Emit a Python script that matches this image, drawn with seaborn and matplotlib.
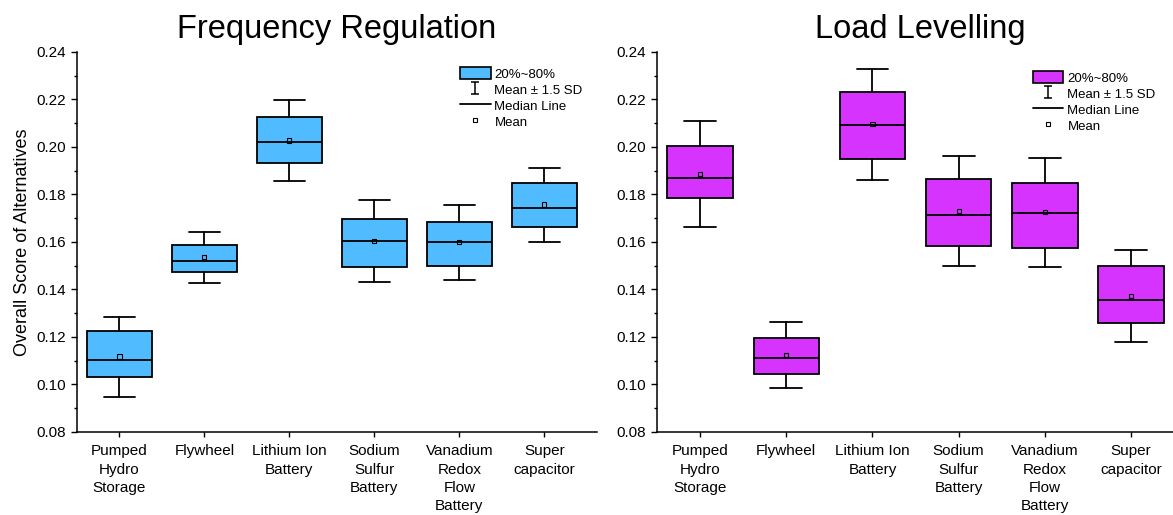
import numpy as np
import matplotlib
matplotlib.use("Agg")
import matplotlib.pyplot as plt
from matplotlib.path import Path
from matplotlib.patches import Patch
from matplotlib.lines import Line2D
from matplotlib.ticker import MultipleLocator
import seaborn as sns

# Storage alternatives (x axis)
categories = ["Pumped\nHydro\nStorage", "Flywheel", "Lithium Ion\nBattery",
              "Sodium\nSulfur\nBattery", "Vanadium\nRedox\nFlow\nBattery", "Super\ncapacitor"]

# Frequency regulation: 20%/80% box, median, mean, mean -/+ 1.5 SD
fr_p20 = [0.1033, 0.1473, 0.1933, 0.1494, 0.1499, 0.1664]
fr_p80 = [0.1224, 0.1588, 0.2125, 0.1696, 0.1685, 0.1850]
fr_median = [0.1104, 0.1519, 0.2022, 0.1602, 0.1598, 0.1741]
fr_mean = [0.1118, 0.1536, 0.2027, 0.1603, 0.1600, 0.1758]
fr_low = [0.0948, 0.1428, 0.1858, 0.1431, 0.1440, 0.1599]
fr_high = [0.1286, 0.1644, 0.2198, 0.1776, 0.1756, 0.1913]

# Load levelling
ll_p20 = [0.1787, 0.1046, 0.1948, 0.1583, 0.1575, 0.1260]
ll_p80 = [0.2006, 0.1194, 0.2233, 0.1865, 0.1848, 0.1499]
ll_median = [0.1869, 0.1111, 0.2093, 0.1715, 0.1724, 0.1357]
ll_mean = [0.1886, 0.1125, 0.2095, 0.1731, 0.1725, 0.1373]
ll_low = [0.1662, 0.0985, 0.1861, 0.1499, 0.1495, 0.1179]
ll_high = [0.2110, 0.1263, 0.2327, 0.1962, 0.1955, 0.1568]

BLUE = "#50BCFF"
MAGENTA = "#D633FF"

sns.set_theme(style="ticks")
plt.rcParams["font.family"] = ["Liberation Sans", "DejaVu Sans"]
plt.rcParams.update({"text.color": "black", "axes.labelcolor": "black",
                     "xtick.color": "black", "ytick.color": "black"})

# I-beam marker for the "Mean ± 1.5 SD" legend entry
ibeam = Path([(-0.6, -1), (0.6, -1), (0, -1), (0, 1), (-0.6, 1), (0.6, 1)],
             [Path.MOVETO, Path.LINETO, Path.MOVETO, Path.LINETO, Path.MOVETO, Path.LINETO])


def draw_panel(ax, p20, p80, med, mean, low, high, color, title, ylabel, legend_xy):
    stats = []
    for i in range(len(categories)):
        stats.append({"q1": p20[i], "q3": p80[i], "med": med[i],
                      "whislo": low[i], "whishi": high[i], "fliers": []})
    lw = 1.3
    ax.bxp(stats, positions=np.arange(len(categories)), widths=0.76, capwidths=0.37,
           patch_artist=True, showfliers=False, manage_ticks=False,
           boxprops=dict(facecolor=color, edgecolor="black", linewidth=lw),
           whiskerprops=dict(color="black", linewidth=lw),
           capprops=dict(color="black", linewidth=lw),
           medianprops=dict(color="black", linewidth=lw))
    sns.scatterplot(x=np.arange(len(categories)), y=mean, ax=ax, marker="s", s=9,
                    facecolor="none", edgecolor="black", linewidth=0.8, zorder=5)

    ax.set_xlim(-0.5, 5.62)
    ax.set_ylim(0.08, 0.24)
    ax.set_xticks(np.arange(len(categories)))
    ax.set_xticklabels(categories, fontsize=11, linespacing=1.38)
    ax.yaxis.set_major_locator(MultipleLocator(0.02))
    ax.yaxis.set_minor_locator(MultipleLocator(0.01))
    ax.yaxis.set_major_formatter(matplotlib.ticker.FormatStrFormatter("%.2f"))
    ax.tick_params(axis="y", which="major", labelsize=11, length=4.5, width=1, color="black")
    ax.tick_params(axis="y", which="minor", length=2.5, width=1, color="black")
    ax.tick_params(axis="x", length=3.5, width=1, color="black", pad=5.5)
    for side in ["left", "bottom"]:
        ax.spines[side].set_color("black")
        ax.spines[side].set_linewidth(1.1)
    sns.despine(ax=ax)
    ax.set_title(title, fontsize=23.5, pad=10)
    if ylabel:
        ax.set_ylabel(ylabel, fontsize=13, labelpad=4)

    handles = [
        Patch(facecolor=color, edgecolor="black", linewidth=1.2),
        Line2D([], [], linestyle="none", marker=ibeam, markersize=9, color="black",
               markeredgewidth=1.1),
        Line2D([], [], color="black", linewidth=1.3),
        Line2D([], [], linestyle="none", marker="s", markersize=3.5, markerfacecolor="none",
               markeredgecolor="black", markeredgewidth=0.8),
    ]
    labels = ["20%~80%", "Mean ± 1.5 SD", "Median Line", "Mean"]
    ax.legend(handles, labels, loc="upper left", bbox_to_anchor=legend_xy, frameon=False,
              fontsize=9.5, handlelength=2.3, handleheight=1.05, handletextpad=0.3,
              labelspacing=0.18, borderaxespad=0, borderpad=0)


fig = plt.figure(figsize=(11.73, 5.15), dpi=100)
ax1 = fig.add_axes([0.0656, 0.1612, 0.4433, 0.7379])
ax2 = fig.add_axes([0.5601, 0.1612, 0.4497, 0.7379])

draw_panel(ax1, fr_p20, fr_p80, fr_median, fr_mean, fr_low, fr_high, BLUE,
           "Frequency Regulation", "Overall Score of Alternatives", (0.737, 0.96))
draw_panel(ax2, ll_p20, ll_p80, ll_median, ll_mean, ll_low, ll_high, MAGENTA,
           "Load Levelling", None, (0.713, 0.95))

fig.savefig("out.png", dpi=100)
